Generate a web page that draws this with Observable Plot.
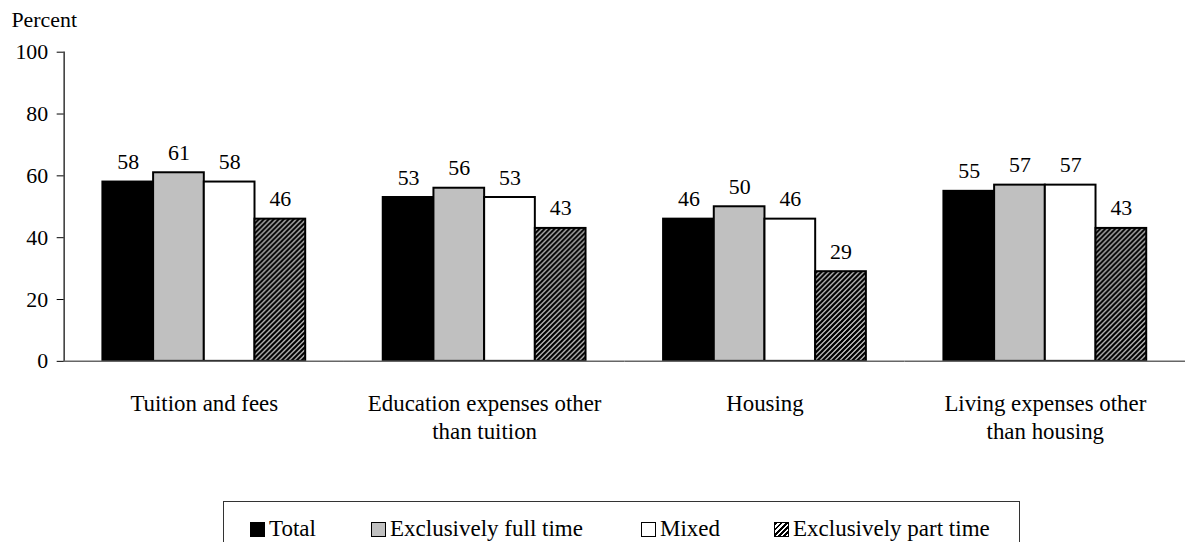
<!DOCTYPE html>
<html>
<head>
<meta charset="utf-8">
<script src="https://cdn.jsdelivr.net/npm/d3@7"></script>
<script src="https://cdn.jsdelivr.net/npm/@observablehq/plot@0.6"></script>
<style>
  html, body { margin: 0; padding: 0; background: #fff; overflow: hidden; }
  body { width: 1185px; height: 542px; position: relative; font-family: "Liberation Serif", "Times New Roman", serif; }
  #chart { position: absolute; left: 0; top: 0; }
  #chart svg, #chart svg text { font-family: "Liberation Serif", "Times New Roman", serif !important; }
  #legend { position: absolute; left: 223px; top: 501px; width: 797px; height: 60px; border: 1px solid #333; box-sizing: border-box; font-size: 23px; color: #000; }
  .item { position: absolute; top: 14px; display: flex; align-items: center; }
  .sw { width: 13px; height: 13px; border: 1.5px solid #000; margin-right: 4px; }
</style>
</head>
<body>
<div id="chart"></div>
<div id="legend"></div>
<script>
const categories = ["Tuition and fees", "Education expenses other than tuition", "Housing", "Living expenses other than housing"];
const categoryLabels = ["Tuition and fees", "Education expenses other\nthan tuition", "Housing", "Living expenses other\nthan housing"];
const series = ["Total", "Exclusively full time", "Mixed", "Exclusively part time"];
const total = [58, 53, 46, 55];
const fullTime = [61, 56, 50, 57];
const mixed = [58, 53, 46, 57];
const partTime = [46, 43, 29, 43];
const yTicks = [0, 20, 40, 60, 80, 100];
const fills = ["#000000", "#c0c0c0", "#ffffff", "url(#hatch)"];
const legendPos = [26, 147, 417, 550];

const columns = [total, fullTime, mixed, partTime];
const data = [];
categories.forEach((c, i) => {
  series.forEach((s, j) => {
    data.push({category: c, series: s, value: columns[j][i], fill: fills[j]});
  });
});
const labelOf = new Map(categories.map((c, i) => [c, categoryLabels[i]]));
const serif = "Liberation Serif, Times New Roman, serif";

const chart = Plot.plot({
  width: 1192,
  height: 480,
  marginLeft: 63,
  marginRight: 0,
  marginTop: 52,
  marginBottom: 117,
  style: `font-family: ${serif}; font-size: 22px; color: #000; background: #fff;`,
  fx: {domain: categories, paddingInner: 0, paddingOuter: 0, label: null},
  x: {domain: series, paddingInner: 0, paddingOuter: 0.74, axis: null},
  y: {domain: [0, 100], label: null},
  color: {type: "identity"},
  marks: [
    Plot.frame({anchor: "left", facetAnchor: "left", stroke: "#000", strokeWidth: 1.2}),
    Plot.axisY({ticks: yTicks, tickSize: 7, tickPadding: 9, tickFormat: d => String(d), fontSize: 22, fontFamily: serif, stroke: "#000", label: null}),
    Plot.axisFx({anchor: "bottom", tickSize: 0, tickPadding: 29, tickFormat: d => labelOf.get(d), fontSize: 23, fontFamily: serif, lineHeight: 1.26, label: null}),
    Plot.barY(data, {fx: "category", x: "series", y: "value", fill: "fill", stroke: "#000", strokeWidth: 2}),
    Plot.ruleY([0], {stroke: "#666", strokeWidth: 1.5}),
    Plot.text(data, {fx: "category", x: "series", y: "value", text: d => String(d.value), lineAnchor: "bottom", dy: -13, fontSize: 22, fontFamily: serif}),
    Plot.text(["Percent"], {frameAnchor: "top-left", textAnchor: "start", lineAnchor: "bottom", dx: -53, dy: -25, fontSize: 22, fontFamily: serif, facetAnchor: "left"})
  ]
});

// hatch pattern definition
const ns = "http://www.w3.org/2000/svg";
const defs = document.createElementNS(ns, "defs");
defs.innerHTML = `<pattern id="hatch" patternUnits="userSpaceOnUse" width="5" height="5">
  <rect width="5" height="5" fill="#fff"/>
  <path d="M-1,1 l2,-2 M0,5 l5,-5 M4,6 l2,-2" stroke="#000" stroke-width="2.6"/>
</pattern>`;
chart.insertBefore(defs, chart.firstChild);
document.getElementById("chart").appendChild(chart);

// legend
const legend = document.getElementById("legend");
series.forEach((s, j) => {
  const item = document.createElement("div");
  item.className = "item";
  item.style.left = legendPos[j] + "px";
  const sw = document.createElement("div");
  sw.className = "sw";
  sw.style.background = j === 3 ? "repeating-linear-gradient(135deg, #000 0 2px, #fff 2px 3.6px)" : fills[j];
  const t = document.createElement("span");
  t.textContent = s;
  item.appendChild(sw);
  item.appendChild(t);
  legend.appendChild(item);
});
</script>
</body>
</html>
